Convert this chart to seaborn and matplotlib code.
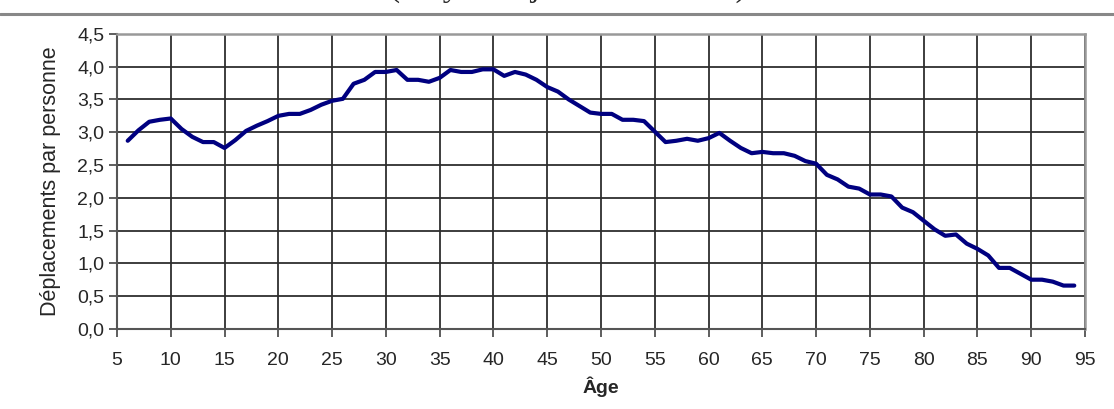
import matplotlib
matplotlib.use("Agg")
import matplotlib.pyplot as plt
import seaborn as sns
import pandas as pd
from matplotlib.ticker import FuncFormatter, MultipleLocator

ages = list(range(6, 95))
deplacements = [
    2.87, 3.03, 3.16, 3.19, 3.21, 3.05, 2.93, 2.85, 2.85, 2.76,   # 6-15
    2.88, 3.02, 3.10, 3.17, 3.25, 3.28, 3.28, 3.34, 3.42, 3.48,   # 16-25
    3.51, 3.74, 3.80, 3.92, 3.92, 3.95, 3.80, 3.80, 3.77, 3.83,   # 26-35
    3.95, 3.92, 3.92, 3.96, 3.96, 3.86, 3.92, 3.88, 3.80, 3.69,   # 36-45
    3.62, 3.50, 3.40, 3.30, 3.28, 3.28, 3.19, 3.19, 3.17, 3.01,   # 46-55
    2.85, 2.87, 2.90, 2.87, 2.91, 2.99, 2.87, 2.76, 2.68, 2.70,   # 56-65
    2.68, 2.68, 2.64, 2.56, 2.52, 2.35, 2.28, 2.17, 2.14, 2.05,   # 66-75
    2.05, 2.02, 1.85, 1.78, 1.65, 1.52, 1.42, 1.44, 1.30, 1.22,   # 76-85
    1.12, 0.93, 0.93, 0.84, 0.75, 0.75, 0.72, 0.66, 0.66          # 86-94
]

df = pd.DataFrame({"Âge": ages, "Déplacements par personne": deplacements})

sns.set_style("white")
plt.rcParams["font.family"] = ["Liberation Sans", "DejaVu Sans"]

fig = plt.figure(figsize=(11.14, 4.09), dpi=100)
ax = fig.add_axes([0.105, 0.196, 0.869, 0.721])

sns.lineplot(data=df, x="Âge", y="Déplacements par personne", ax=ax,
             color="#000080", linewidth=3.0, solid_joinstyle="round",
             solid_capstyle="round")

ax.set_xlim(5, 95)
ax.set_ylim(0, 4.5)
ax.xaxis.set_major_locator(MultipleLocator(5))
ax.yaxis.set_major_locator(MultipleLocator(0.5))
ax.yaxis.set_major_formatter(FuncFormatter(lambda v, p: f"{v:.1f}".replace(".", ",")))

ax.grid(True, color="#2e2e2e", linewidth=1.3)
ax.set_axisbelow(True)
for s in ["top", "right"]:
    ax.spines[s].set_color("#999999")
    ax.spines[s].set_linewidth(1.8)
for s in ["left", "bottom"]:
    ax.spines[s].set_color("#555555")
    ax.spines[s].set_linewidth(1.5)

ax.tick_params(axis="both", which="major", labelsize=14, length=6, width=1.1,
               color="#333333", direction="out", bottom=True, left=True)
ax.tick_params(axis="x", pad=11)
ax.tick_params(axis="y", pad=3)

ax.set_xlabel("Âge", fontsize=14, fontweight="bold", labelpad=5)
ax.set_ylabel("Déplacements par personne", fontsize=15.5, labelpad=12)

# Top rule and clipped subtitle (cut off at the top edge in the reference too)
fig.add_artist(matplotlib.lines.Line2D([0.0, 1.0], [0.966, 0.966],
               transform=fig.transFigure, color="#888888", linewidth=2.2))
fig.text(0.51, 1.010, "(moyenne jours ouvrables)", ha="center", va="baseline",
         fontsize=24, family=["Liberation Serif", "DejaVu Serif"])

fig.savefig("out.png", dpi=100)
